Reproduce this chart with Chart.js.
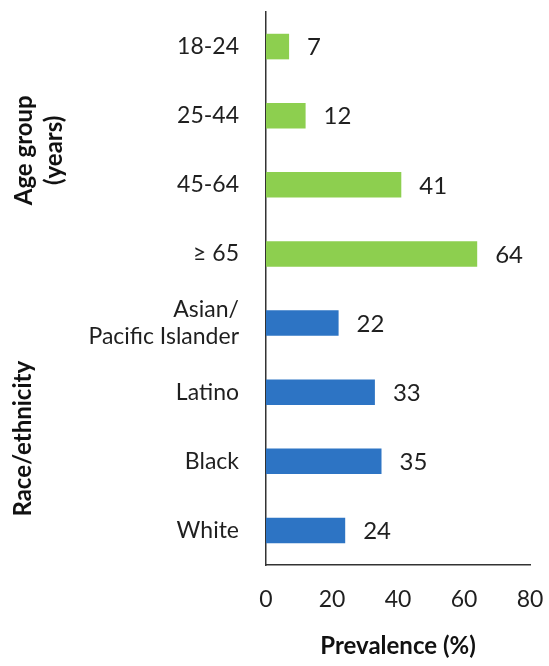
<!DOCTYPE html>
<html>
<head>
<meta charset="utf-8">
<script src="https://cdn.jsdelivr.net/npm/chart.js@4/dist/chart.umd.min.js"></script>
<style>
  html, body { margin: 0; padding: 0; background: #ffffff; }
  #wrap { width: 549px; height: 666px; position: relative; }
</style>
</head>
<body>
<div id="wrap"><canvas id="c"></canvas></div>
<script>
// ---- Data ----
const ageLabels = ['18-24', '25-44', '45-64', '\u2265 65'];
const ageValues = [7, 12, 41, 64];
const raceLabels = [['Asian/', 'Pacific Islander'], 'Latino', 'Black', 'White'];
const raceValues = [22, 33, 35, 24];
const groupTitles = [['Age group', '(years)'], ['Race/ethnicity']];
const xTicks = [0, 20, 40, 60, 80];
const xTitle = 'Prevalence (%)';

// ---- Styles ----
const GREEN = '#8DCF4F';
const BLUE = '#2D74C4';
const TEXT = '#1f1f1f';
const FONT = 'Lato, "Open Sans", sans-serif';

const labels = ageLabels.concat(raceLabels);
const values = ageValues.concat(raceValues);
const colors = ageValues.map(() => GREEN).concat(raceValues.map(() => BLUE));

const valueLabelPlugin = {
  id: 'valueLabels',
  afterDatasetsDraw(chart) {
    const ctx = chart.ctx;
    const meta = chart.getDatasetMeta(0);
    ctx.save();
    ctx.font = '24px ' + FONT;
    ctx.fillStyle = TEXT;
    ctx.textAlign = 'left';
    ctx.textBaseline = 'middle';
    meta.data.forEach((bar, i) => {
      ctx.fillText(String(values[i]), bar.x + 18, bar.y + 1);
    });
    ctx.restore();
  }
};

const groupLabelPlugin = {
  id: 'groupLabels',
  afterDraw(chart) {
    const ctx = chart.ctx;
    const y = chart.scales.y;
    ctx.save();
    ctx.font = 'bold 24px ' + FONT;
    ctx.fillStyle = '#111111';
    ctx.textAlign = 'center';
    ctx.textBaseline = 'middle';
    const ageCenter = (y.getPixelForValue(0) + y.getPixelForValue(3)) / 2;
    const raceCenter = (y.getPixelForValue(4) + y.getPixelForValue(7)) / 2 + 12;
    const drawRot = (lines, cx, cy, lh) => {
      ctx.save();
      ctx.translate(cx, cy);
      ctx.rotate(-Math.PI / 2);
      const n = lines.length;
      lines.forEach((t, k) => {
        ctx.fillText(t, 0, (k - (n - 1) / 2) * lh);
      });
      ctx.restore();
    };
    drawRot(groupTitles[0], 39, ageCenter, 30);
    drawRot(groupTitles[1], 23, raceCenter, 30);
    ctx.restore();
  }
};

new Chart(document.getElementById('c'), {
  type: 'bar',
  data: {
    labels: labels,
    datasets: [{
      data: values,
      backgroundColor: colors,
      borderWidth: 0,
      barPercentage: 0.37,
      categoryPercentage: 1.0
    }]
  },
  options: {
    indexAxis: 'y',
    responsive: true,
    maintainAspectRatio: false,
    animation: false,
    layout: { padding: { top: 12, right: 19, bottom: 0, left: 0 } },
    plugins: {
      legend: { display: false },
      tooltip: { enabled: false }
    },
    scales: {
      x: {
        min: xTicks[0],
        max: xTicks[xTicks.length - 1],
        afterBuildTicks(scale) { scale.ticks = xTicks.map(v => ({ value: v })); },
        grid: { display: false, drawTicks: false },
        border: { display: true, color: '#333333', width: 1.5 },
        ticks: { color: TEXT, font: { family: FONT, size: 23 }, padding: 21 },
        title: {
          display: true,
          text: xTitle,
          color: '#111111',
          font: { family: FONT, size: 24, weight: 'bold' },
          padding: { top: 0, bottom: 5 }
        },
        afterFit(scale) {
          scale.height = 101;
          scale.paddingLeft = 0;
          scale.paddingRight = 0;
        }
      },
      y: {
        grid: { display: false, drawTicks: false },
        border: { display: true, color: '#333333', width: 1.5 },
        ticks: { color: TEXT, font: { family: FONT, size: 23, lineHeight: 1.15 }, padding: 27 },
        afterFit(scale) {
          scale.width = 266;
          scale.paddingTop = 0;
          scale.paddingBottom = 0;
        }
      }
    }
  },
  plugins: [valueLabelPlugin, groupLabelPlugin]
});
</script>
</body>
</html>
